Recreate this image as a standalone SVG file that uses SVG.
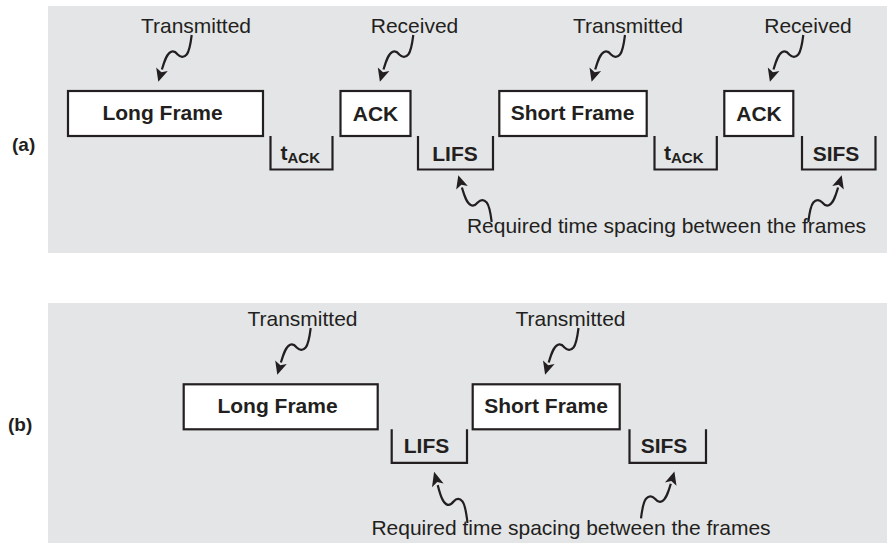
<svg xmlns="http://www.w3.org/2000/svg" width="887" height="543" viewBox="0 0 887 543">
<style>
.bg{fill:#e4e5e7;stroke:none}
.box{fill:#ffffff;stroke:#231f20;stroke-width:2.2}
.br{fill:none;stroke:#231f20;stroke-width:2.2}
.lb{font-family:"Liberation Sans",Arial,Helvetica,sans-serif;font-weight:bold;font-size:21px;fill:#231f20;text-anchor:middle}
.sub{font-size:15px}
.pl{font-family:"Liberation Sans",Arial,Helvetica,sans-serif;font-size:21px;fill:#231f20;text-anchor:middle}
.tag{font-family:"Liberation Sans",Arial,Helvetica,sans-serif;font-weight:bold;font-size:19px;fill:#231f20}
.sq{fill:none;stroke:#231f20;stroke-width:2.2}
.hd{fill:#231f20;stroke:none}
</style>
<defs>
<g id="squig">
<path class="sq" d="M0,0 C-1,8 -2,16 -5,19.5 C-8,23 -11,22.5 -14,19.5 C-16,17 -18,15.5 -21,17 C-25,19 -27,25 -29.8,34.5"/>
<polygon class="hd" points="-33.4,46.7 -23.9,35.9 -30.3,37.2 -35.5,32.5"/>
</g>
</defs>

<rect class="bg" x="48" y="6" width="839" height="247"/>
<rect class="bg" x="48" y="303" width="839" height="240"/>

<text class="tag" x="12" y="151">(a)</text>
<text class="tag" x="8" y="431">(b)</text>

<g id="a-long-frame">
<rect class="box" x="68" y="91" width="195" height="45"/>
<text class="lb" x="162.5" y="120">Long Frame</text>
</g>
<g id="a-tack-1">
<path class="br" d="M270.5,136 V169.5 H332.5 V136"/>
<text class="lb" x="280.5" y="159.5" style="text-anchor:start">t<tspan class="sub" dy="3">ACK</tspan></text>
</g>
<g id="a-ack-1">
<rect class="box" x="340.5" y="91" width="70" height="45"/>
<text class="lb" x="375.5" y="120.5">ACK</text>
</g>
<g id="a-lifs">
<path class="br" d="M418,136 V169.5 H493 V136"/>
<text class="lb" x="455" y="160.5">LIFS</text>
</g>
<g id="a-short-frame">
<rect class="box" x="499.3" y="91" width="147.4" height="45"/>
<text class="lb" x="572.5" y="120">Short Frame</text>
</g>
<g id="a-tack-2">
<path class="br" d="M654.5,136 V169.5 H716.8 V136"/>
<text class="lb" x="664" y="159.5" style="text-anchor:start">t<tspan class="sub" dy="3">ACK</tspan></text>
</g>
<g id="a-ack-2">
<rect class="box" x="724.3" y="91" width="69" height="45"/>
<text class="lb" x="759" y="120.5">ACK</text>
</g>
<g id="a-sifs">
<path class="br" d="M802,136 V169.5 H875.5 V136"/>
<text class="lb" x="836" y="160.5">SIFS</text>
</g>

<g id="a-labels">
<text class="pl" x="196" y="33">Transmitted</text>
<text class="pl" x="414.5" y="33">Received</text>
<text class="pl" x="628" y="33">Transmitted</text>
<text class="pl" x="808" y="33">Received</text>
<text class="pl" x="666.5" y="233">Required time spacing between the frames</text>
</g>

<g id="b-long-frame">
<rect class="box" x="183.7" y="384.3" width="194" height="45"/>
<text class="lb" x="277.5" y="413.3">Long Frame</text>
</g>
<g id="b-lifs">
<path class="br" d="M391.7,429.3 V462.8 H467 V429.3"/>
<text class="lb" x="426.5" y="452.7">LIFS</text>
</g>
<g id="b-short-frame">
<rect class="box" x="472.7" y="384.3" width="147" height="45"/>
<text class="lb" x="546" y="413.3">Short Frame</text>
</g>
<g id="b-sifs">
<path class="br" d="M629.5,429.3 V462.8 H706 V429.3"/>
<text class="lb" x="664" y="452.7">SIFS</text>
</g>

<g id="b-labels">
<text class="pl" x="302.5" y="326">Transmitted</text>
<text class="pl" x="570.5" y="326">Transmitted</text>
<text class="pl" x="571" y="535">Required time spacing between the frames</text>
</g>

<g id="connectors">
<use href="#squig" transform="translate(191.7,35)"/>
<use href="#squig" transform="translate(413.3,35)"/>
<use href="#squig" transform="translate(625,35)"/>
<use href="#squig" transform="translate(803.3,35)"/>
<use href="#squig" transform="translate(491.7,222) scale(1,-1)"/>
<use href="#squig" transform="translate(808.3,222) rotate(180)"/>
<use href="#squig" transform="translate(310.7,328)"/>
<use href="#squig" transform="translate(578.5,328)"/>
<use href="#squig" transform="translate(467.5,523) scale(1,-1.1)"/>
<use href="#squig" transform="translate(641,518.3) rotate(180)"/>
</g>
</svg>
